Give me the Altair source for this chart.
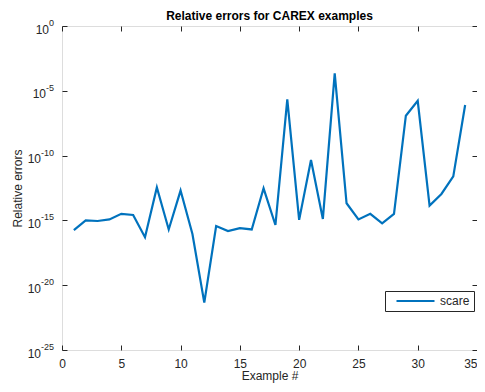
import altair as alt
import pandas as pd

examples = list(range(1, 35))
rel_errors = [
    1.8e-16, 1.0e-15, 9.0e-16, 1.2e-15, 3.2e-15, 2.6e-15, 5.0e-17, 3.5e-13,
    2.0e-16, 2.0e-13, 9.0e-17, 4.5e-22, 3.7e-16, 1.5e-16, 2.5e-16, 2.0e-16,
    3.0e-13, 4.4e-16, 2.2e-06, 1.1e-15, 4.6e-11, 1.3e-15, 2.2e-04, 2.1e-14,
    1.2e-15, 3.2e-15, 5.9e-16, 3.2e-15, 1.2e-07, 1.7e-06, 1.4e-14, 1.1e-13,
    2.5e-12, 8.0e-07,
]
series_name = "scare"

x_ticks = [0, 5, 10, 15, 20, 25, 30, 35]
y_tick_values = [1e-25, 1e-20, 1e-15, 1e-10, 1e-5, 1.0]
y_tick_base = ["10", "10", "10", "10", "10", "10"]
y_tick_exps = ["-25", "-20", "-15", "-10", "-5", "0"]

df = pd.DataFrame({"example": examples, "err": rel_errors, "series": series_name})
ylab = pd.DataFrame({"value": y_tick_values, "base": y_tick_base, "exp": y_tick_exps})

FONT = "Liberation Sans"
AX = "#262626"
EXP_SIZE = 9
W, H = 415, 324

xs = alt.Scale(domain=[0, 35], nice=False, zero=False)
ys = alt.Scale(type="log", domain=[1e-25, 1.0], nice=False)

line = alt.Chart(df).mark_line(strokeWidth=2.2).encode(
    x=alt.X("example:Q", scale=xs,
            axis=alt.Axis(values=x_ticks, title="Example #", orient="bottom",
                          offset=-5, tickSize=5, labelPadding=8, grid=False,
                          domain=False, tickColor=AX, labelColor=AX,
                          titleColor=AX, labelFont=FONT, titleFont=FONT,
                          labelFontSize=12, titleFontSize=12,
                          labelAlign={"condition": {"test": "datum.value >= 35", "value": "right"}, "value": "center"},
                          titleFontWeight="normal", titleX=W / 2, titleY=30,
                          titleBaseline="middle", labelFlush=False)),
    y=alt.Y("err:Q", scale=ys,
            axis=alt.Axis(values=y_tick_values, labels=False,
                          title="Relative errors", orient="left", offset=-5,
                          tickSize=5, grid=False, domain=False,
                          tickColor=AX, titleColor=AX, titleFont=FONT,
                          titleFontSize=12, titleFontWeight="normal",
                          titleX=-50, titleY=H / 2, titleBaseline="middle")),
    color=alt.Color("series:N",
                    scale=alt.Scale(domain=[series_name], range=["#0072BD"]),
                    legend=alt.Legend(title=None, orient="none", legendX=323,
                                      legendY=265, symbolType="stroke",
                                      symbolSize=1444, symbolStrokeWidth=2.2,
                                      symbolOffset=6, clipHeight=12,
                                      strokeColor=AX, fillColor="white",
                                      padding=4, labelOffset=4, labelFont=FONT,
                                      labelFontSize=12, labelColor=AX,
                                      cornerRadius=0)),
)

frame = alt.Chart(df).mark_point(opacity=0).encode(
    x=alt.X("example:Q", scale=xs,
            axis=alt.Axis(values=x_ticks, orient="top", offset=-5, tickSize=5,
                          labels=False, title=None, grid=False, domain=False,
                          tickColor=AX)),
    y=alt.Y("err:Q", scale=ys,
            axis=alt.Axis(values=y_tick_values, orient="right", offset=-5,
                          tickSize=5, labels=False, title=None, grid=False,
                          domain=False, tickColor=AX)),
)

# y tick labels as "10" with a raised exponent
lab_base = alt.Chart(ylab).transform_calculate(
    xpos=f"-8 - {EXP_SIZE}*(0.333*(indexof(datum.exp, '-') >= 0 ? 1 : 0) + 0.556*length(replace(datum.exp, '-', '')))"
).mark_text(align="right", baseline="alphabetic", dy=7.5, font=FONT,
            fontSize=12, color=AX).encode(
    x=alt.X("xpos:Q", scale=None, axis=None),
    y=alt.Y("value:Q", scale=ys, axis=None),
    text="base:N",
)
lab_exp = alt.Chart(ylab).mark_text(align="right", baseline="alphabetic", dy=0,
                                    font=FONT, fontSize=EXP_SIZE, color=AX).encode(
    x=alt.value(-8),
    y=alt.Y("value:Q", scale=ys, axis=None),
    text="exp:N",
)

chart = alt.layer(line, frame, lab_base, lab_exp).resolve_scale(
    x="independent", y="independent"
).properties(
    width=W, height=H,
    title=alt.TitleParams("Relative errors for CAREX examples", font=FONT,
                          fontSize=12, fontWeight="bold", color="black",
                          anchor="middle", offset=6, dy=10),
    autosize=alt.AutoSizeParams(type="none"),
    padding={"left": 54, "top": 18, "right": 0, "bottom": 34},
).configure_view(stroke=AX, strokeWidth=1).configure(background="white")

chart.save("out.html", embed_options={"renderer": "svg", "actions": False})
